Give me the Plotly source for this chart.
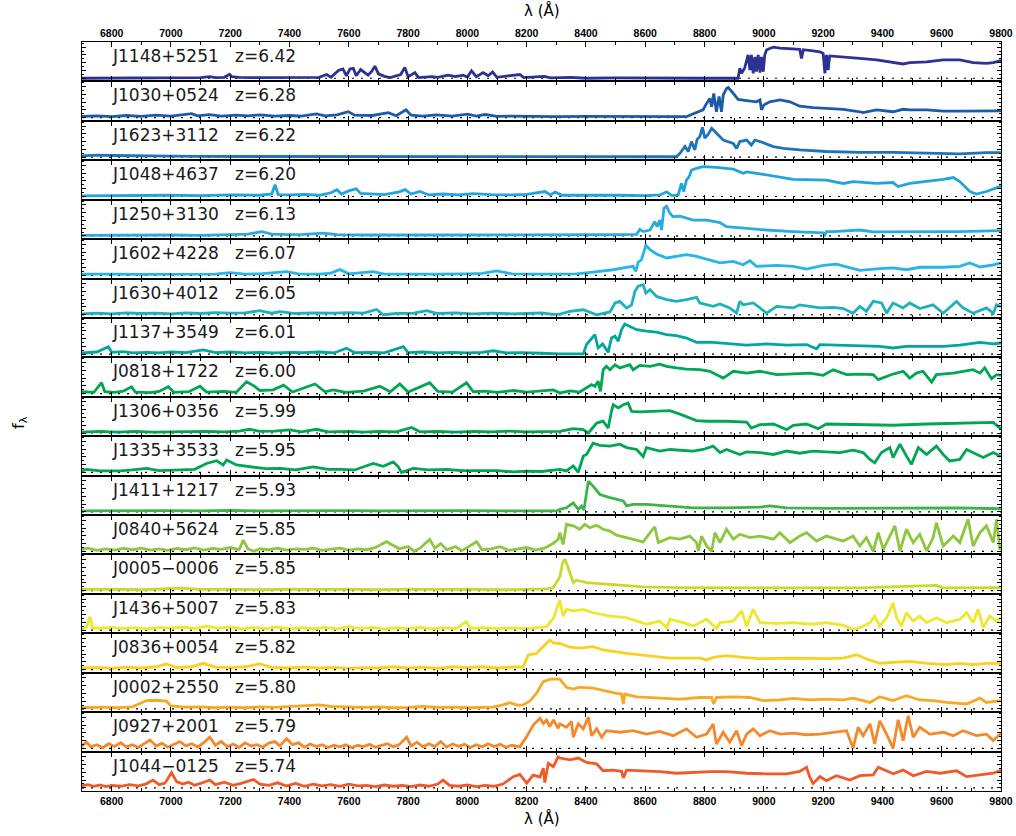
import plotly.graph_objects as go
from plotly.subplots import make_subplots

# ---------------- data (wavelength in Angstrom, normalised flux) ----------------
QSO_NAMES = ["J1148+5251", "J1030+0524", "J1623+3112", "J1048+4637", "J1250+3130",
             "J1602+4228", "J1630+4012", "J1137+3549", "J0818+1722", "J1306+0356",
             "J1335+3533", "J1411+1217", "J0840+5624", "J0005\u22120006", "J1436+5007",
             "J0836+0054", "J0002+2550", "J0927+2001", "J1044\u22120125"]
REDSHIFTS = ["6.42", "6.28", "6.22", "6.20", "6.13", "6.07", "6.05", "6.01", "6.00", "5.99",
             "5.95", "5.93", "5.85", "5.85", "5.83", "5.82", "5.80", "5.79", "5.74"]
COLORS = ["#2E3192", "#1C5BA9", "#1A75BC", "#20A4DE", "#29ABE2", "#27B4E6", "#1DB1BF",
          "#00A79D", "#00A651", "#00A651", "#00A651", "#3AB54A", "#8DC63F", "#C7DA2C",
          "#EEE82B", "#FAD11E", "#F8A924", "#F5882B", "#F05A28"]

J1148 = [(6700,0.0),(6800,0.01),(6900,0.0),(7000,0.01),(7100,0.02),(7130,0.05),(7150,0.02),(7180,0.03),
         (7198,0.13),(7205,0.05),(7230,0.03),(7280,0.02),(7330,0.02),(7400,0.01),(7470,0.01),(7500,0.03),
         (7525,0.12),(7540,0.03),(7565,0.25),(7580,0.30),(7592,0.08),(7604,0.30),(7615,0.32),(7625,0.08),
         (7640,0.28),(7652,0.20),(7665,0.10),(7677,0.22),(7688,0.39),(7700,0.14),(7720,0.06),(7740,0.02),
         (7775,0.12),(7789,0.35),(7800,0.05),(7823,0.18),(7835,0.02),(7880,0.05),(7900,0.03),(7935,0.10),
         (7960,0.05),(7985,0.10),(8000,0.04),(8014,0.24),(8030,0.05),(8053,0.18),(8070,0.08),(8085,0.20),
         (8100,0.03),(8177,0.12),(8190,0.02),(8260,0.06),(8280,0.01),(8350,0.03),(8400,0.0),(8500,0.01),
         (8600,0.0),(8700,0.01),(8800,0.0),(8913,0.0),(8919,0.32),(8925,0.16),(8935,0.32),(8947,0.75),
         (8953,0.26),(8958,0.75),(8964,0.16),(8970,0.69),(8975,0.21),(8981,0.75),(8987,0.18),(8992,0.69),
         (8998,0.21),(9003,0.75),(9009,0.91),(9020,0.96),(9032,1.0),(9054,0.97),(9077,0.96),(9099,0.94),
         (9121,0.93),(9127,0.64),(9133,0.92),(9166,0.88),(9189,0.85),(9200,0.80),(9206,0.16),(9211,0.75),
         (9217,0.26),(9222,0.72),(9268,0.69),(9324,0.64),(9380,0.59),(9436,0.50),(9470,0.46),(9492,0.50),
         (9549,0.53),(9605,0.59),(9661,0.59),(9706,0.50),(9751,0.48),(9774,0.50),(9796,0.57),(9800,0.57)]

J1030 = [(6700,0.04),(6750,0.06),(6800,0.03),(6850,0.07),(6900,0.04),(6950,0.08),(7000,0.05),(7040,0.09),
         (7070,0.13),(7090,0.06),(7130,0.10),(7170,0.05),(7220,0.08),(7260,0.06),(7300,0.09),(7350,0.05),
         (7400,0.07),(7440,0.05),(7491,0.12),(7520,0.06),(7560,0.09),(7598,0.19),(7620,0.08),(7680,0.07),
         (7733,0.16),(7760,0.06),(7793,0.25),(7810,0.08),(7850,0.05),(7895,0.09),(7950,0.05),(8000,0.11),
         (8030,0.05),(8060,0.10),(8100,0.04),(8150,0.05),(8200,0.04),(8250,0.05),(8300,0.03),(8400,0.04),
         (8500,0.03),(8600,0.04),(8700,0.02),(8739,0.03),(8750,0.08),(8773,0.16),(8795,0.25),(8807,0.46),
         (8818,0.62),(8824,0.35),(8831,0.78),(8840,0.19),(8849,0.68),(8857,0.19),(8863,0.73),(8874,0.94),
         (8880,0.97),(8897,0.78),(8913,0.59),(8942,0.55),(8975,0.51),(8987,0.57),(8992,0.25),(9000,0.41),
         (9020,0.51),(9054,0.57),(9088,0.51),(9121,0.37),(9166,0.32),(9211,0.30),(9268,0.27),(9324,0.19),
         (9335,0.16),(9380,0.25),(9414,0.20),(9436,0.19),(9470,0.27),(9492,0.25),(9549,0.25),(9605,0.21),
         (9661,0.21),(9717,0.21),(9796,0.22),(9800,0.22)]

J1623 = [(6700,0.04),(6750,0.06),(6800,0.05),(6850,0.04),(6900,0.03),(7000,0.03),(7100,0.02),(7200,0.02),
         (7300,0.03),(7400,0.02),(7500,0.03),(7600,0.03),(7700,0.02),(7800,0.02),(7900,0.03),(8000,0.02),
         (8100,0.02),(8200,0.01),(8300,0.02),(8400,0.01),(8500,0.02),(8600,0.01),(8705,0.01),(8717,0.12),
         (8734,0.34),(8745,0.18),(8756,0.50),(8767,0.23),(8775,0.57),(8784,0.66),(8793,0.96),(8801,0.61),
         (8812,0.73),(8824,0.93),(8840,0.77),(8863,0.55),(8897,0.44),(8908,0.28),(8919,0.50),(8942,0.55),
         (8958,0.39),(8970,0.55),(8987,0.50),(9032,0.34),(9066,0.28),(9121,0.23),(9211,0.18),(9324,0.15),
         (9436,0.15),(9549,0.12),(9661,0.10),(9751,0.14),(9796,0.14),(9800,0.14)]

J1048 = [(6700,0.02),(6800,0.03),(6900,0.02),(7000,0.04),(7100,0.03),(7200,0.05),(7300,0.04),(7340,0.08),
         (7351,0.38),(7362,0.06),(7400,0.05),(7450,0.07),(7500,0.04),(7540,0.12),(7560,0.22),(7575,0.08),
         (7600,0.18),(7625,0.25),(7640,0.10),(7680,0.08),(7720,0.06),(7770,0.15),(7790,0.22),(7810,0.08),
         (7840,0.16),(7870,0.05),(7920,0.08),(7970,0.05),(8020,0.09),(8080,0.06),(8150,0.05),(8200,0.07),
         (8262,0.16),(8280,0.05),(8296,0.14),(8320,0.04),(8400,0.03),(8500,0.04),(8600,0.03),(8650,0.05),
         (8672,0.15),(8690,0.03),(8711,0.05),(8722,0.42),(8730,0.16),(8739,0.53),(8748,0.64),(8756,0.85),
         (8773,0.91),(8795,0.96),(8840,0.94),(8897,0.88),(8930,0.75),(8942,0.79),(8987,0.73),(9043,0.64),
         (9099,0.55),(9211,0.53),(9268,0.42),(9301,0.48),(9380,0.42),(9436,0.45),(9453,0.32),(9492,0.42),
         (9549,0.48),(9605,0.55),(9639,0.61),(9661,0.48),(9695,0.16),(9717,0.08),(9751,0.16),(9796,0.32),
         (9800,0.40)]

J1250 = [(6700,0.02),(6800,0.03),(6900,0.02),(7000,0.03),(7100,0.02),(7200,0.04),(7260,0.06),(7306,0.14),
         (7340,0.06),(7400,0.04),(7450,0.05),(7514,0.09),(7560,0.04),(7650,0.03),(7750,0.04),(7850,0.03),
         (7950,0.03),(8050,0.03),(8150,0.02),(8250,0.03),(8350,0.03),(8450,0.04),(8520,0.04),(8571,0.05),
         (8582,0.21),(8593,0.14),(8616,0.19),(8632,0.46),(8640,0.30),(8649,0.51),(8655,0.19),(8663,0.89),
         (8672,0.96),(8683,0.73),(8694,0.62),(8717,0.64),(8762,0.51),(8807,0.51),(8852,0.43),(8874,0.30),
         (8942,0.24),(9009,0.19),(9099,0.14),(9200,0.10),(9206,0.03),(9211,0.14),(9234,0.14),(9324,0.19),
         (9369,0.13),(9436,0.13),(9549,0.15),(9661,0.14),(9796,0.17),(9800,0.17)]

J1602 = [(6700,0.04),(6750,0.03),(6800,0.04),(6900,0.03),(7000,0.04),(7100,0.05),(7150,0.04),(7199,0.09),
         (7250,0.04),(7300,0.05),(7390,0.12),(7430,0.05),(7500,0.04),(7540,0.07),(7570,0.19),(7600,0.05),
         (7682,0.12),(7720,0.04),(7800,0.05),(7900,0.04),(8000,0.05),(8050,0.06),(8098,0.14),(8150,0.05),
         (8250,0.04),(8312,0.04),(8368,0.05),(8424,0.10),(8458,0.13),(8492,0.18),(8526,0.24),(8559,0.29),
         (8568,0.13),(8576,0.43),(8587,0.50),(8602,0.97),(8616,0.83),(8638,0.69),(8672,0.56),(8705,0.61),
         (8739,0.67),(8773,0.61),(8818,0.50),(8852,0.40),(8897,0.45),(8930,0.34),(8953,0.47),(8975,0.29),
         (9043,0.32),(9099,0.29),(9144,0.20),(9200,0.32),(9245,0.36),(9290,0.26),(9324,0.16),(9380,0.21),
         (9436,0.24),(9481,0.18),(9526,0.26),(9605,0.26),(9661,0.29),(9695,0.40),(9729,0.27),(9774,0.34),
         (9800,0.40)]

J1630 = [(6700,0.03),(6750,0.05),(6800,0.03),(6850,0.06),(6900,0.04),(6950,0.05),(7000,0.03),(7050,0.06),
         (7100,0.04),(7150,0.07),(7200,0.05),(7250,0.06),(7300,0.13),(7340,0.05),(7368,0.10),(7420,0.04),
         (7480,0.06),(7550,0.05),(7600,0.07),(7650,0.05),(7694,0.17),(7716,0.0),(7760,0.04),(7820,0.05),
         (7862,0.13),(7900,0.04),(7960,0.06),(8020,0.03),(8080,0.05),(8150,0.03),(8200,0.04),(8250,0.06),
         (8290,0.01),(8312,0.02),(8346,0.11),(8391,0.16),(8436,0.0),(8481,0.09),(8498,0.38),(8514,0.43),
         (8537,0.22),(8554,0.32),(8565,0.75),(8576,0.92),(8593,0.97),(8602,0.70),(8616,0.81),(8638,0.59),
         (8672,0.49),(8705,0.43),(8739,0.49),(8773,0.56),(8784,0.38),(8807,0.32),(8829,0.27),(8852,0.35),
         (8885,0.22),(8908,0.05),(8919,0.43),(8930,0.32),(8964,0.38),(8987,0.22),(9009,0.05),(9043,0.27),
         (9099,0.22),(9121,0.32),(9155,0.27),(9189,0.22),(9234,0.24),(9268,0.20),(9301,0.05),(9324,0.27),
         (9346,0.11),(9369,0.43),(9397,0.38),(9414,0.05),(9436,0.38),(9470,0.22),(9492,0.38),(9526,0.20),
         (9571,0.32),(9605,0.05),(9650,0.43),(9672,0.22),(9706,0.05),(9751,0.22),(9774,0.05),(9785,0.32),
         (9800,0.27)]

J1137 = [(6700,0.04),(6750,0.07),(6789,0.24),(6800,0.06),(6839,0.08),(6870,0.04),(6920,0.06),(6960,0.04),
         (7000,0.07),(7050,0.05),(7109,0.14),(7150,0.05),(7200,0.07),(7250,0.04),(7300,0.06),(7350,0.04),
         (7400,0.06),(7450,0.05),(7500,0.07),(7550,0.04),(7592,0.19),(7620,0.05),(7680,0.06),(7720,0.04),
         (7784,0.24),(7800,0.05),(7850,0.07),(7900,0.04),(7950,0.06),(8000,0.04),(8050,0.06),(8087,0.11),
         (8130,0.04),(8180,0.05),(8250,0.03),(8312,0.01),(8391,0.01),(8402,0.31),(8430,0.63),(8441,0.20),
         (8456,0.33),(8475,0.06),(8486,0.52),(8498,0.58),(8509,0.42),(8520,0.79),(8531,0.97),(8548,0.90),
         (8571,0.79),(8604,0.74),(8638,0.71),(8672,0.63),(8705,0.60),(8739,0.52),(8773,0.38),(8818,0.39),
         (8874,0.35),(8942,0.29),(9009,0.33),(9077,0.29),(9144,0.31),(9178,0.17),(9189,0.31),(9268,0.29),
         (9324,0.29),(9391,0.25),(9436,0.20),(9481,0.25),(9549,0.25),(9605,0.25),(9661,0.29),(9729,0.38),
         (9774,0.33),(9800,0.36)]

J0818 = [(6700,0.06),(6740,0.04),(6766,0.35),(6777,0.06),(6810,0.04),(6839,0.08),(6867,0.22),(6880,0.05),
         (6930,0.03),(6960,0.07),(6991,0.22),(7010,0.04),(7060,0.06),(7098,0.24),(7120,0.05),(7180,0.07),
         (7220,0.04),(7255,0.38),(7280,0.25),(7300,0.10),(7345,0.12),(7380,0.27),(7410,0.05),(7486,0.31),
         (7520,0.06),(7547,0.12),(7590,0.04),(7650,0.08),(7705,0.24),(7740,0.06),(7772,0.31),(7800,0.05),
         (7873,0.35),(7900,0.07),(7950,0.05),(7997,0.35),(8020,0.06),(8060,0.08),(8100,0.04),(8155,0.10),
         (8200,0.05),(8290,0.12),(8312,0.02),(8346,0.09),(8379,0.05),(8402,0.18),(8419,0.29),(8430,0.23),
         (8441,0.40),(8449,0.07),(8458,0.77),(8469,0.88),(8481,0.77),(8498,0.93),(8514,0.83),(8548,0.93),
         (8559,0.77),(8582,0.91),(8616,0.88),(8649,0.95),(8672,0.88),(8705,0.83),(8739,0.79),(8784,0.77),
         (8818,0.72),(8863,0.50),(8897,0.72),(8942,0.66),(8987,0.72),(9043,0.61),(9099,0.63),(9155,0.66),
         (9200,0.59),(9234,0.77),(9279,0.61),(9324,0.63),(9369,0.61),(9386,0.45),(9436,0.63),(9470,0.72),
         (9492,0.50),(9515,0.66),(9537,0.72),(9566,0.37),(9582,0.61),(9639,0.66),(9706,0.77),(9729,0.66),
         (9745,0.83),(9768,0.48),(9785,0.61),(9800,0.59)]

J1306 = [(6700,0.03),(6760,0.05),(6820,0.03),(6880,0.05),(6940,0.03),(7000,0.04),(7060,0.03),(7120,0.05),
         (7180,0.04),(7230,0.06),(7266,0.12),(7300,0.05),(7350,0.06),(7401,0.10),(7440,0.04),(7491,0.12),
         (7530,0.04),(7600,0.05),(7650,0.03),(7700,0.05),(7760,0.04),(7812,0.18),(7840,0.04),(7900,0.05),
         (7960,0.03),(8020,0.05),(8080,0.04),(8140,0.06),(8200,0.04),(8260,0.05),(8312,0.05),(8357,0.14),
         (8391,0.11),(8408,0.0),(8436,0.32),(8458,0.38),(8475,0.16),(8486,0.70),(8492,0.91),(8509,0.81),
         (8526,0.91),(8542,0.97),(8554,0.70),(8582,0.68),(8649,0.70),(8683,0.72),(8717,0.61),(8773,0.40),
         (8807,0.38),(8874,0.38),(8942,0.35),(8958,0.16),(8987,0.27),(9032,0.29),(9077,0.11),(9099,0.25),
         (9144,0.29),(9183,0.14),(9211,0.29),(9324,0.27),(9436,0.25),(9549,0.29),(9661,0.32),(9774,0.34),
         (9796,0.16),(9800,0.16)]

J1335 = [(6700,0.05),(6715,0.10),(6760,0.05),(6828,0.05),(6870,0.08),(6918,0.13),(6960,0.06),(7030,0.07),
         (7080,0.10),(7120,0.29),(7154,0.38),(7176,0.24),(7188,0.40),(7221,0.24),(7278,0.18),(7320,0.12),
         (7368,0.13),(7420,0.08),(7480,0.18),(7530,0.10),(7570,0.10),(7620,0.08),(7682,0.29),(7716,0.20),
         (7750,0.34),(7767,0.18),(7778,0.0),(7817,0.13),(7870,0.08),(7930,0.10),(7980,0.06),(8042,0.05),
         (8100,0.06),(8155,0.02),(8200,0.04),(8250,0.03),(8301,0.10),(8312,0.10),(8334,0.05),(8357,0.21),
         (8374,0.0),(8391,0.53),(8402,0.58),(8424,0.94),(8447,0.87),(8481,0.85),(8514,0.91),(8537,0.80),
         (8571,0.74),(8593,0.51),(8604,0.80),(8649,0.69),(8683,0.74),(8728,0.72),(8762,0.69),(8795,0.74),
         (8829,0.85),(8852,0.64),(8874,0.74),(8919,0.58),(8942,0.66),(8987,0.64),(9032,0.58),(9077,0.69),
         (9121,0.62),(9166,0.69),(9211,0.66),(9256,0.64),(9301,0.72),(9335,0.64),(9358,0.42),(9374,0.31),
         (9397,0.64),(9425,0.80),(9436,0.48),(9459,0.91),(9481,0.53),(9498,0.26),(9521,0.80),(9549,0.58),
         (9582,0.85),(9605,0.58),(9627,0.37),(9661,0.42),(9684,0.74),(9717,0.58),(9740,0.48),(9774,0.64),
         (9796,0.51),(9800,0.51)]

J1411 = [(6700,0.03),(6800,0.04),(6900,0.03),(7000,0.04),(7100,0.03),(7200,0.05),(7300,0.03),(7400,0.04),
         (7500,0.03),(7600,0.04),(7700,0.03),(7800,0.04),(7900,0.03),(8000,0.04),(8100,0.03),(8200,0.04),
         (8300,0.03),(8312,0.08),(8334,0.13),(8357,0.29),(8374,0.08),(8385,0.19),(8393,0.06),(8402,0.62),
         (8408,0.99),(8424,0.83),(8447,0.56),(8481,0.46),(8526,0.35),(8537,0.19),(8559,0.24),(8604,0.24),
         (8649,0.21),(8705,0.17),(8762,0.13),(8874,0.13),(8987,0.15),(9020,0.19),(9077,0.13),(9211,0.11),
         (9436,0.11),(9661,0.13),(9796,0.10),(9800,0.10)]

J0840 = [(6700,0.06),(6720,0.10),(6750,0.03),(6780,0.08),(6810,0.04),(6840,0.09),(6870,0.05),(6900,0.10),
         (6930,0.04),(6960,0.08),(6990,0.03),(7020,0.09),(7050,0.05),(7080,0.11),(7110,0.04),(7140,0.09),
         (7170,0.06),(7200,0.12),(7230,0.05),(7244,0.36),(7260,0.08),(7280,0.0),(7300,0.08),(7330,0.05),
         (7360,0.10),(7390,0.04),(7420,0.08),(7450,0.06),(7480,0.10),(7510,0.03),(7540,0.07),(7570,0.10),
         (7600,0.04),(7630,0.08),(7660,0.05),(7690,0.12),(7727,0.31),(7750,0.18),(7770,0.08),(7800,0.15),
         (7820,0.0),(7840,0.10),(7873,0.38),(7890,0.10),(7910,0.25),(7930,0.05),(7960,0.15),(7980,0.02),
         (8000,0.12),(8031,0.31),(8050,0.05),(8080,0.08),(8110,0.15),(8140,0.03),(8170,0.08),(8200,0.12),
         (8230,0.04),(8260,0.10),(8290,0.26),(8306,0.38),(8312,0.60),(8323,0.22),(8334,0.87),(8357,0.82),
         (8379,0.71),(8396,0.87),(8413,0.76),(8436,0.84),(8458,0.71),(8481,0.65),(8503,0.52),(8537,0.44),
         (8593,0.30),(8616,0.60),(8632,0.79),(8644,0.28),(8683,0.44),(8717,0.39),(8750,0.49),(8773,0.28),
         (8779,0.01),(8790,0.49),(8807,0.17),(8824,0.0),(8835,0.60),(8852,0.28),(8874,0.71),(8897,0.39),
         (8919,0.55),(8953,0.44),(8987,0.49),(9032,0.39),(9054,0.60),(9088,0.28),(9121,0.49),(9144,0.60),
         (9178,0.33),(9211,0.49),(9268,0.33),(9301,0.49),(9324,0.17),(9346,0.44),(9369,0.0),(9386,0.60),
         (9403,0.06),(9425,0.49),(9442,0.82),(9459,0.01),(9481,0.71),(9504,0.28),(9526,0.55),(9549,0.01),
         (9571,0.44),(9582,0.92),(9605,0.17),(9639,0.49),(9661,0.28),(9689,1.03),(9706,0.17),(9729,0.60),
         (9751,0.82),(9774,0.28),(9785,1.03),(9796,0.06),(9800,0.10)]

J0005 = [(6700,0.04),(6800,0.05),(6900,0.03),(7000,0.06),(7030,0.08),(7100,0.04),(7200,0.05),(7300,0.03),
         (7400,0.05),(7500,0.04),(7600,0.05),(7700,0.03),(7800,0.05),(7900,0.04),(8000,0.05),(8100,0.03),
         (8200,0.05),(8267,0.06),(8290,0.10),(8300,0.25),(8312,0.45),(8321,0.90),(8329,1.01),(8340,0.74),
         (8351,0.47),(8357,0.26),(8368,0.34),(8402,0.26),(8447,0.23),(8537,0.17),(8593,0.12),(8705,0.10),
         (8874,0.09),(9099,0.09),(9324,0.09),(9582,0.17),(9605,0.09),(9796,0.10),(9800,0.10)]

J1436 = [(6700,0.05),(6715,0.10),(6727,0.43),(6735,0.08),(6760,0.06),(6800,0.09),(6840,0.05),(6880,0.08),
         (6920,0.04),(6960,0.09),(7000,0.06),(7040,0.10),(7080,0.05),(7120,0.13),(7160,0.06),(7200,0.10),
         (7240,0.04),(7280,0.09),(7320,0.05),(7360,0.10),(7400,0.04),(7440,0.08),(7480,0.05),(7520,0.09),
         (7560,0.04),(7600,0.11),(7640,0.05),(7680,0.09),(7720,0.03),(7760,0.08),(7800,0.05),(7840,0.09),
         (7880,0.04),(7920,0.08),(7960,0.05),(7997,0.27),(8010,0.05),(8050,0.08),(8100,0.05),(8150,0.07),
         (8200,0.05),(8250,0.08),(8267,0.11),(8290,0.38),(8312,0.97),(8323,0.45),(8334,0.67),(8357,0.62),
         (8391,0.67),(8424,0.56),(8481,0.45),(8537,0.40),(8604,0.19),(8649,0.29),(8672,0.08),(8683,0.35),
         (8728,0.24),(8762,0.13),(8807,0.35),(8840,0.05),(8852,0.24),(8897,0.29),(8925,0.62),(8942,0.13),
         (8964,0.67),(8987,0.24),(9043,0.22),(9099,0.24),(9155,0.19),(9211,0.24),(9268,0.15),(9301,0.02),
         (9324,0.08),(9358,0.24),(9374,0.45),(9391,0.13),(9414,0.40),(9436,0.88),(9448,0.40),(9464,0.13),
         (9481,0.56),(9504,0.29),(9526,0.45),(9549,0.24),(9582,0.40),(9616,0.24),(9661,0.35),(9684,0.56),
         (9706,0.24),(9723,0.67),(9740,0.08),(9762,0.45),(9785,0.29),(9800,0.40)]

J0836 = [(6700,0.05),(6750,0.07),(6800,0.04),(6850,0.08),(6900,0.05),(6950,0.09),(6985,0.18),(7020,0.06),
         (7070,0.09),(7109,0.20),(7150,0.08),(7200,0.06),(7250,0.09),(7300,0.18),(7340,0.07),(7400,0.05),
         (7450,0.08),(7500,0.05),(7550,0.07),(7600,0.04),(7650,0.06),(7700,0.05),(7750,0.09),(7800,0.05),
         (7850,0.08),(7900,0.04),(7950,0.09),(8000,0.06),(8050,0.09),(8100,0.05),(8150,0.08),(8188,0.09),
         (8205,0.47),(8233,0.52),(8256,0.74),(8278,0.95),(8290,0.86),(8312,0.84),(8346,0.72),(8379,0.69),
         (8424,0.74),(8458,0.63),(8537,0.52),(8649,0.41),(8683,0.37),(8784,0.37),(8807,0.31),(8829,0.39),
         (8874,0.45),(8930,0.39),(8987,0.35),(9099,0.37),(9211,0.35),(9268,0.37),(9313,0.48),(9346,0.34),
         (9391,0.20),(9436,0.23),(9492,0.26),(9549,0.20),(9616,0.16),(9661,0.20),(9706,0.16),(9751,0.20),
         (9796,0.20),(9800,0.20)]

J0002 = [(6700,0.04),(6760,0.06),(6820,0.04),(6870,0.07),(6918,0.27),(6950,0.28),(6985,0.25),(7000,0.10),
         (7050,0.06),(7100,0.07),(7150,0.04),(7200,0.06),(7250,0.04),(7300,0.07),(7350,0.05),(7400,0.08),
         (7450,0.10),(7500,0.13),(7540,0.08),(7600,0.06),(7650,0.05),(7700,0.07),(7750,0.04),(7800,0.05),
         (7850,0.08),(7900,0.05),(7950,0.06),(8000,0.04),(8050,0.05),(8087,0.06),(8120,0.13),(8143,0.20),
         (8170,0.12),(8188,0.13),(8210,0.25),(8233,0.50),(8256,0.88),(8280,0.96),(8312,0.96),(8334,0.70),
         (8357,0.64),(8379,0.70),(8424,0.67),(8458,0.59),(8503,0.50),(8520,0.48),(8526,0.16),(8531,0.48),
         (8571,0.39),(8649,0.35),(8717,0.32),(8784,0.37),(8824,0.37),(8831,0.16),(8840,0.37),(8897,0.39),
         (8953,0.37),(8998,0.27),(9054,0.29),(9099,0.34),(9155,0.29),(9211,0.32),(9268,0.29),(9301,0.35),
         (9358,0.21),(9391,0.39),(9436,0.27),(9481,0.43),(9526,0.29),(9571,0.27),(9616,0.21),(9684,0.16),
         (9729,0.35),(9751,0.21),(9796,0.27),(9800,0.27)]

J0927 = [(6700,0.08),(6715,0.20),(6730,0.05),(6750,0.12),(6770,0.02),(6790,0.15),(6810,0.06),(6830,0.18),
         (6850,0.05),(6870,0.12),(6890,0.03),(6910,0.14),(6929,0.27),(6950,0.08),(6970,0.16),(6990,0.04),
         (7010,0.13),(7030,0.22),(7050,0.08),(7070,0.15),(7090,0.05),(7110,0.18),(7131,0.36),(7150,0.10),
         (7170,0.22),(7190,0.06),(7210,0.14),(7230,0.03),(7250,0.18),(7270,0.08),(7290,0.12),(7310,0.04),
         (7330,0.17),(7350,0.22),(7368,0.08),(7390,0.32),(7410,0.12),(7430,0.18),(7450,0.04),(7470,0.14),
         (7490,0.06),(7510,0.12),(7530,0.03),(7550,0.10),(7570,0.05),(7590,0.12),(7610,0.02),(7630,0.10),
         (7650,0.06),(7670,0.13),(7690,0.04),(7710,0.09),(7730,0.15),(7750,0.05),(7770,0.12),(7795,0.36),
         (7810,0.08),(7830,0.20),(7850,0.05),(7870,0.15),(7890,0.06),(7910,0.22),(7930,0.04),(7950,0.14),
         (7970,0.07),(7990,0.13),(8010,0.03),(8030,0.12),(8050,0.05),(8070,0.15),(8090,0.06),(8110,0.13),
         (8130,0.04),(8150,0.10),(8177,0.05),(8200,0.38),(8222,0.75),(8245,0.97),(8256,0.80),(8267,0.91),
         (8278,0.70),(8290,0.92),(8306,0.65),(8312,0.79),(8334,0.68),(8351,0.87),(8357,0.36),(8374,0.79),
         (8391,0.63),(8408,1.0),(8419,0.41),(8436,0.63),(8453,0.36),(8469,0.57),(8514,0.52),(8559,0.57),
         (8604,0.46),(8649,0.55),(8694,0.41),(8739,0.63),(8773,0.36),(8807,0.46),(8829,0.79),(8840,0.14),
         (8863,0.52),(8885,0.20),(8908,0.57),(8925,0.09),(8942,0.46),(8964,0.63),(8987,0.41),(9020,0.57),
         (9054,0.46),(9099,0.49),(9144,0.44),(9189,0.46),(9234,0.52),(9279,0.57),(9301,0.0),(9318,0.68),
         (9335,0.41),(9358,0.79),(9374,0.14),(9391,0.89),(9414,0.46),(9436,0.0),(9453,0.92),(9470,0.25),
         (9487,1.05),(9504,0.36),(9526,0.68),(9560,0.46),(9605,0.52),(9639,0.41),(9672,0.57),(9717,0.41),
         (9751,0.46),(9774,0.25),(9796,0.46),(9800,0.46)]

J1044 = [(6700,0.07),(6720,0.10),(6740,0.05),(6760,0.09),(6780,0.04),(6800,0.08),(6830,0.05),(6860,0.10),
         (6890,0.06),(6915,0.12),(6940,0.25),(6960,0.10),(6980,0.15),(7002,0.49),(7019,0.20),(7040,0.12),
         (7060,0.18),(7080,0.08),(7100,0.14),(7131,0.25),(7150,0.10),(7180,0.18),(7210,0.08),(7240,0.15),
         (7278,0.27),(7300,0.12),(7330,0.08),(7360,0.16),(7390,0.06),(7420,0.14),(7450,0.05),(7480,0.12),
         (7510,0.06),(7540,0.10),(7570,0.05),(7600,0.12),(7630,0.06),(7660,0.08),(7690,0.04),(7720,0.09),
         (7750,0.05),(7780,0.08),(7810,0.04),(7840,0.09),(7870,0.05),(7900,0.12),(7918,0.25),(7940,0.08),
         (7970,0.05),(8000,0.09),(8030,0.04),(8060,0.08),(8090,0.05),(8120,0.12),(8155,0.36),(8177,0.43),
         (8188,0.30),(8200,0.15),(8222,0.41),(8245,0.35),(8256,0.63),(8261,0.17),(8273,0.79),(8290,0.68),
         (8306,1.0),(8312,0.96),(8346,0.90),(8374,0.96),(8402,0.82),(8436,0.77),(8458,0.55),(8492,0.57),
         (8520,0.53),(8526,0.32),(8537,0.57),(8593,0.55),(8649,0.52),(8705,0.47),(8762,0.50),(8818,0.52),
         (8874,0.52),(8942,0.47),(9009,0.45),(9077,0.45),(9121,0.53),(9144,0.66),(9155,0.34),(9166,0.14),
         (9189,0.36),(9211,0.23),(9245,0.39),(9290,0.25),(9324,0.39),(9369,0.42),(9386,0.66),(9414,0.55),
         (9436,0.45),(9470,0.57),(9504,0.39),(9549,0.53),(9594,0.47),(9650,0.55),(9684,0.36),(9729,0.42),
         (9774,0.47),(9796,0.55),(9800,0.55)]

SPECTRA = [J1148, J1030, J1623, J1048, J1250, J1602, J1630, J1137, J0818, J1306,
           J1335, J1411, J0840, J0005, J1436, J0836, J0002, J0927, J1044]

X_RANGE = [6700, 9800]
Y_RANGE = [-0.103, 1.168]

# ---------------- figure ----------------
N = len(SPECTRA)
fig = make_subplots(rows=N, cols=1, shared_xaxes=True, vertical_spacing=0)

for i, spec in enumerate(SPECTRA):
    wl = [p[0] for p in spec]
    fl = [p[1] for p in spec]
    fig.add_trace(go.Scatter(x=wl, y=fl, mode="lines",
                             line=dict(color=COLORS[i], width=2.8),
                             hoverinfo="skip", showlegend=False), row=i + 1, col=1)
    yref = "y" if i == 0 else f"y{i+1}"
    xref = "x" if i == 0 else f"x{i+1}"
    fig.add_shape(type="line", xref=xref, yref=yref, x0=X_RANGE[0], x1=X_RANGE[1], y0=0, y1=0,
                  line=dict(color="black", width=1.2, dash="2px,7px"), layer="below")
    fig.add_annotation(xref="paper", yref=f"{yref} domain", x=0.0305, y=1.0,
                       xanchor="left", yanchor="top", yshift=-2, showarrow=False,
                       text=f"{QSO_NAMES[i]}\u00a0\u00a0\u00a0z={REDSHIFTS[i]}",
                       font=dict(family="DejaVu Sans", size=17, color="#1a1a1a"))

xax_common = dict(range=X_RANGE, showgrid=False, zeroline=False, showline=True, linecolor="black",
                  linewidth=1.3, mirror="ticks", ticks="inside", ticklen=5, tickwidth=1.2,
                  tickcolor="black", tick0=6800, dtick=200, tickformat="d", automargin=False,
                  minor=dict(dtick=100, ticks="inside", ticklen=3, tickwidth=1, tickcolor="black"),
                  tickfont=dict(family="Liberation Sans", size=10.5, color="black", weight="bold"))
yax_common = dict(range=Y_RANGE, showgrid=False, zeroline=False, showline=True, linecolor="black",
                  linewidth=1.3, mirror="ticks", ticks="inside", ticklen=4, tickwidth=1,
                  tickcolor="black", tick0=0, dtick=0.25, showticklabels=False, automargin=False,
                  minor=dict(dtick=0.125, ticks="inside", ticklen=2, tickwidth=1, tickcolor="black"))

for i in range(N):
    xa = dict(xax_common)
    if i == 0:
        xa.update(side="top", showticklabels=True)
    elif i == N - 1:
        xa.update(side="bottom", showticklabels=True)
    else:
        xa.update(showticklabels=False)
    fig.update_xaxes(xa, row=i + 1, col=1)
    fig.update_yaxes(yax_common, row=i + 1, col=1)

fig.add_annotation(xref="paper", yref="paper", x=0.5, y=1.0, yshift=32, yanchor="middle",
                   showarrow=False, text="\u03bb (\u00c5)",
                   font=dict(family="DejaVu Sans", size=15, color="black"))
fig.add_annotation(xref="paper", yref="paper", x=0.5, y=0.0, yshift=-27, yanchor="middle",
                   showarrow=False, text="\u03bb (\u00c5)",
                   font=dict(family="DejaVu Sans", size=15, color="black"))
fig.add_annotation(xref="paper", yref="paper", x=-0.0675, y=0.4927, xanchor="center",
                   yanchor="middle", showarrow=False, textangle=-90,
                   text="f<sub>\u03bb</sub>", font=dict(family="DejaVu Sans", size=16, color="black"))

fig.update_layout(width=1016, height=836, margin=dict(l=82, r=15, t=42, b=45, autoexpand=False),
                  paper_bgcolor="white", plot_bgcolor="white")

fig.write_html("out.html")
